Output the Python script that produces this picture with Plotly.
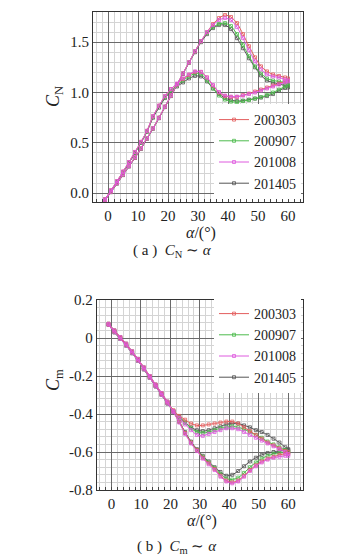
import plotly.graph_objects as go

# ---------------- data ----------------
series_names = ["200303", "200907", "201008", "201405"]
series_colors = ["#e35d5d", "#4dbb4d", "#de5ade", "#555555"]
draw_order = [3, 1, 0, 2]  # gray first, magenta last (as in the reference overlap)

alpha_up = [-1, 1, 3, 5, 7, 9, 11, 13, 15, 17, 19, 21, 23, 25, 27, 29, 31,
            33, 35, 37, 39, 41, 43, 45, 47, 49, 51, 53, 55, 57, 59, 60]
alpha_down = [60, 59, 57, 55, 53, 51, 49, 47, 45, 43, 41, 39, 37, 35, 33, 31,
              29, 27, 25, 23, 21, 19, 17, 15, 13, 11, 9, 7, 5, 3, 1, -1]

# normal-force coefficient, upstroke
cn_up_200303 = [-0.07, 0.015, 0.10, 0.185, 0.27, 0.355, 0.445, 0.545, 0.645, 0.75, 0.86, 0.97,
                1.08, 1.19, 1.30, 1.41, 1.51, 1.60, 1.68, 1.74, 1.77, 1.75, 1.69, 1.58, 1.46,
                1.35, 1.26, 1.21, 1.18, 1.165, 1.15, 1.14]
cn_up_200907 = [-0.07, 0.015, 0.10, 0.185, 0.27, 0.355, 0.445, 0.545, 0.645, 0.75, 0.86, 0.97,
                1.08, 1.19, 1.30, 1.41, 1.51, 1.59, 1.65, 1.68, 1.69, 1.66, 1.58, 1.47, 1.36,
                1.26, 1.19, 1.14, 1.12, 1.11, 1.10, 1.09]
cn_up_201008 = [-0.07, 0.015, 0.10, 0.185, 0.27, 0.355, 0.445, 0.545, 0.645, 0.75, 0.86, 0.97,
                1.08, 1.19, 1.30, 1.41, 1.51, 1.60, 1.67, 1.72, 1.74, 1.72, 1.65, 1.54, 1.42,
                1.31, 1.23, 1.18, 1.16, 1.15, 1.13, 1.12]
cn_up_201405 = [-0.07, 0.01, 0.095, 0.18, 0.265, 0.35, 0.44, 0.54, 0.64, 0.745, 0.855, 0.965,
                1.075, 1.185, 1.295, 1.40, 1.50, 1.58, 1.64, 1.67, 1.67, 1.63, 1.54, 1.44, 1.34,
                1.25, 1.17, 1.12, 1.10, 1.085, 1.07, 1.07]

# normal-force coefficient, downstroke
cn_down_200303 = [1.12, 1.11, 1.09, 1.07, 1.05, 1.03, 1.01, 0.99, 0.975, 0.955, 0.955, 0.965,
                  1.00, 1.07, 1.15, 1.205, 1.205, 1.175, 1.135, 1.085, 1.035, 0.965, 0.87,
                  0.765, 0.62, 0.51, 0.41, 0.31, 0.215, 0.12, 0.03, -0.06]
cn_down_200907 = [1.07, 1.06, 1.03, 1.00, 0.975, 0.955, 0.94, 0.925, 0.915, 0.905, 0.91, 0.93,
                  0.97, 1.04, 1.12, 1.185, 1.19, 1.16, 1.12, 1.07, 1.02, 0.955, 0.865,
                  0.76, 0.615, 0.505, 0.405, 0.305, 0.21, 0.115, 0.025, -0.06]
cn_down_201008 = [1.11, 1.10, 1.08, 1.06, 1.04, 1.02, 1.00, 0.985, 0.97, 0.96, 0.96, 0.97,
                  1.005, 1.075, 1.15, 1.205, 1.21, 1.18, 1.14, 1.09, 1.035, 0.965, 0.87,
                  0.765, 0.62, 0.51, 0.41, 0.31, 0.215, 0.12, 0.03, -0.06]
cn_down_201405 = [1.05, 1.045, 1.02, 0.985, 0.965, 0.95, 0.94, 0.93, 0.92, 0.915, 0.925, 0.945,
                  0.985, 1.04, 1.11, 1.16, 1.165, 1.14, 1.10, 1.06, 1.01, 0.945, 0.85,
                  0.75, 0.61, 0.50, 0.40, 0.30, 0.205, 0.11, 0.02, -0.065]

# pitching-moment coefficient, upstroke
cm_up_200303 = [0.075, 0.04, 0.005, -0.03, -0.07, -0.11, -0.155, -0.20, -0.245, -0.29, -0.335,
                -0.385, -0.44, -0.50, -0.55, -0.59, -0.63, -0.66, -0.69, -0.725, -0.75, -0.76,
                -0.75, -0.725, -0.695, -0.67, -0.65, -0.635, -0.625, -0.615, -0.61, -0.61]
cm_up_200907 = [0.075, 0.04, 0.005, -0.03, -0.07, -0.11, -0.155, -0.20, -0.245, -0.29, -0.335,
                -0.385, -0.44, -0.50, -0.55, -0.59, -0.625, -0.655, -0.685, -0.715, -0.74, -0.745,
                -0.735, -0.71, -0.68, -0.655, -0.635, -0.62, -0.61, -0.605, -0.60, -0.60]
cm_up_201008 = [0.075, 0.04, 0.005, -0.03, -0.07, -0.11, -0.155, -0.20, -0.245, -0.29, -0.335,
                -0.39, -0.445, -0.505, -0.555, -0.595, -0.635, -0.665, -0.695, -0.73, -0.755, -0.765,
                -0.755, -0.73, -0.70, -0.675, -0.655, -0.64, -0.63, -0.625, -0.62, -0.62]
cm_up_201405 = [0.07, 0.035, 0.0, -0.035, -0.075, -0.115, -0.16, -0.205, -0.25, -0.295, -0.34,
                -0.39, -0.44, -0.495, -0.545, -0.585, -0.62, -0.65, -0.68, -0.705, -0.725, -0.72,
                -0.70, -0.675, -0.65, -0.63, -0.615, -0.605, -0.60, -0.595, -0.59, -0.59]

# pitching-moment coefficient, downstroke
cm_down_200303 = [-0.60, -0.595, -0.58, -0.565, -0.55, -0.53, -0.51, -0.49, -0.47, -0.45, -0.44,
                  -0.44, -0.445, -0.45, -0.455, -0.46, -0.46, -0.45, -0.43, -0.41, -0.38, -0.34,
                  -0.295, -0.25, -0.205, -0.16, -0.115, -0.075, -0.035, 0.0, 0.035, 0.07]
cm_down_200907 = [-0.60, -0.59, -0.575, -0.56, -0.545, -0.525, -0.51, -0.495, -0.48, -0.47, -0.465,
                  -0.47, -0.475, -0.485, -0.495, -0.50, -0.495, -0.475, -0.445, -0.415, -0.385, -0.345,
                  -0.30, -0.255, -0.21, -0.165, -0.12, -0.08, -0.04, -0.005, 0.03, 0.07]
cm_down_201008 = [-0.61, -0.60, -0.585, -0.57, -0.555, -0.54, -0.525, -0.51, -0.495, -0.48, -0.475,
                  -0.475, -0.485, -0.495, -0.505, -0.515, -0.51, -0.485, -0.455, -0.42, -0.385, -0.345,
                  -0.30, -0.255, -0.21, -0.165, -0.12, -0.08, -0.04, -0.005, 0.03, 0.07]
cm_down_201405 = [-0.585, -0.575, -0.55, -0.53, -0.51, -0.495, -0.485, -0.47, -0.46, -0.45, -0.45,
                  -0.455, -0.465, -0.475, -0.485, -0.49, -0.485, -0.47, -0.445, -0.415, -0.385, -0.345,
                  -0.30, -0.255, -0.21, -0.165, -0.12, -0.08, -0.04, -0.005, 0.03, 0.07]

cn_up = [cn_up_200303, cn_up_200907, cn_up_201008, cn_up_201405]
cn_down = [cn_down_200303, cn_down_200907, cn_down_201008, cn_down_201405]
cm_up = [cm_up_200303, cm_up_200907, cm_up_201008, cm_up_201405]
cm_down = [cm_down_200303, cm_down_200907, cm_down_201008, cm_down_201405]

cn_ticks = [0.0, 0.5, 1.0, 1.5]
cn_ticktext = ["0.0", "0.5", "1.0", "1.5"]
cm_ticks = [-0.8, -0.6, -0.4, -0.2, 0.0, 0.2]
cm_ticktext = ["-0.8", "-0.6", "-0.4", "-0.2", "0", "0.2"]
alpha_ticks = [0, 10, 20, 30, 40, 50, 60]

# ---------------- figure ----------------
W, H = 343, 557
SERIF = "Liberation Serif, Times New Roman, serif"

fig = go.Figure()
for panel, (ups, downs, xa, ya, lg) in enumerate([(cn_up, cn_down, "x", "y", "legend"),
                                                  (cm_up, cm_down, "x2", "y2", "legend2")]):
    for i in draw_order:
        fig.add_trace(go.Scatter(
            x=alpha_up + alpha_down, y=ups[i] + downs[i],
            mode="lines+markers", name=series_names[i],
            legendgroup=series_names[i] + str(panel), legendrank=i + 1,
            line=dict(color=series_colors[i], width=1, shape="spline", smoothing=0.6),
            marker=dict(symbol="square-open", size=3, color=series_colors[i], line=dict(width=0.8)),
            xaxis=xa, yaxis=ya, legend=lg))

def px_x(p):
    return p / W

def px_y(p):
    return 1 - p / H

axis_common = dict(
    showgrid=True, gridcolor="#6a6a6a", gridwidth=1,
    showline=True, linecolor="#333333", linewidth=1, mirror=True,
    ticks="", tickfont=dict(family=SERIF, size=15, color="#222222"),
    zeroline=False, automargin=False,
)

fig.update_layout(
    width=W, height=H, margin=dict(l=0, r=0, t=0, b=0, pad=0),
    paper_bgcolor="white", plot_bgcolor="white",
    showlegend=True,
    xaxis=dict(domain=[px_x(93), px_x(303)], range=[-5, 65], anchor="y",
               tickvals=alpha_ticks, minor=dict(dtick=2, tick0=0, showgrid=True, gridcolor="#d4d4d4",
                                                ticks="inside", ticklen=3, tickcolor="#444"),
               **axis_common),
    yaxis=dict(domain=[px_y(202), px_y(12)], range=[-0.087, 1.8], anchor="x",
               tickvals=cn_ticks, ticktext=cn_ticktext,
               minor=dict(dtick=0.1, tick0=0, showgrid=True, gridcolor="#d4d4d4"),
               **axis_common),
    xaxis2=dict(domain=[px_x(96.7), px_x(303)], range=[-5, 65], anchor="y2",
                tickvals=alpha_ticks, minor=dict(dtick=2, tick0=0, showgrid=True, gridcolor="#d4d4d4",
                                                 ticks="inside", ticklen=3, tickcolor="#444"),
                **axis_common),
    yaxis2=dict(domain=[px_y(490), px_y(300)], range=[-0.8, 0.2], anchor="x2",
                tickvals=cm_ticks, ticktext=cm_ticktext,
                minor=dict(dtick=0.04, tick0=0, showgrid=True, gridcolor="#d4d4d4"),
                **axis_common),
    legend=dict(x=px_x(301), y=px_y(199), xanchor="right", yanchor="bottom",
                bgcolor="white", borderwidth=0, font=dict(family=SERIF, size=14, color="#222"),
                itemwidth=30, tracegroupgap=0),
    legend2=dict(x=px_x(301), y=px_y(298), xanchor="right", yanchor="top",
                 bgcolor="white", borderwidth=0, font=dict(family=SERIF, size=14, color="#222"),
                 itemwidth=30, tracegroupgap=0),
)

def label(text, xp, yp, font, angle=0):
    fig.add_annotation(text=text, x=px_x(xp), y=px_y(yp), xref="paper", yref="paper",
                       xanchor="center", yanchor="middle", showarrow=False,
                       textangle=angle, font=font)

ann_font = dict(family=SERIF, size=16, color="#222")
ytitle_font = dict(family=SERIF, size=18, color="#222")
label("<i>α</i>/(°)", 201, 233, ann_font)
label("<i>α</i>/(°)", 202, 521, ann_font)
label("<i>C</i><sub>N</sub>", 54, 97, ytitle_font, -90)
label("<i>C</i><sub>m</sub>", 54, 380, ytitle_font, -90)
cap_font = dict(family=SERIF, size=15, color="#222")
label("( a )  <i>C</i><sub>N</sub> ∼ <i>α</i>", 172, 251, cap_font)
label("( b )  <i>C</i><sub>m</sub> ∼ <i>α</i>", 177, 547, cap_font)

fig.write_html("out.html", config={"responsive": False, "displayModeBar": False},
               post_script="document.body.style.margin='0';document.body.style.overflow='hidden';")
